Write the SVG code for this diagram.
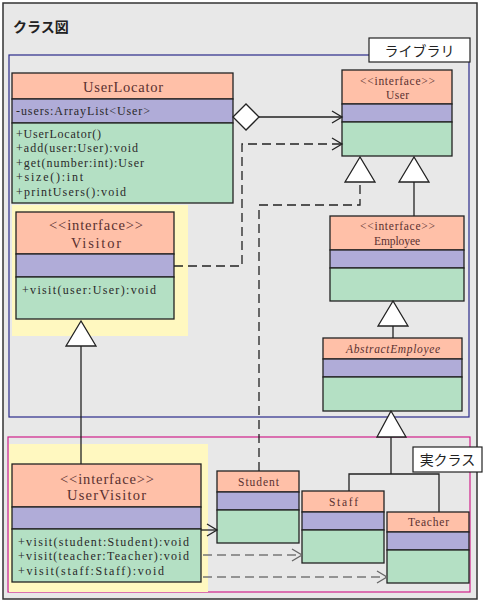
<svg xmlns="http://www.w3.org/2000/svg" width="494" height="605" viewBox="0 0 494 605">
<style>
.hd{fill:#ffc0a8;stroke:#222;stroke-width:1.3}
.at{fill:#b0acd8;stroke:#222;stroke-width:1.3}
.op{fill:#b4e0c4;stroke:#222;stroke-width:1.3}
.t{font-family:"Liberation Serif",serif;fill:#5a3030}
.m{font-family:"Liberation Serif",serif;fill:#2a2a2a;font-size:12px}
.jp{font-family:"Noto Sans CJK JP",sans-serif;font-size:14px;fill:#222}
.tri{fill:#fff;stroke:#222;stroke-width:1.3}
.ln{fill:none;stroke:#222;stroke-width:1.3}
.dl{fill:none;stroke:#222;stroke-width:1.3;stroke-dasharray:9 5}
.dg{fill:none;stroke:#777;stroke-width:1.6;stroke-dasharray:9 5}
</style>
<defs>
<marker id="ar" markerUnits="userSpaceOnUse" markerWidth="14" markerHeight="14" refX="11" refY="7" orient="auto">
<path d="M1,1 L11,7 L1,13" fill="none" stroke="#222" stroke-width="1.3"/>
</marker>
<marker id="arg" markerUnits="userSpaceOnUse" markerWidth="14" markerHeight="14" refX="11" refY="7" orient="auto">
<path d="M1,1 L11,7 L1,13" fill="none" stroke="#666" stroke-width="1.3"/>
</marker>
</defs>
<rect x="0" y="0" width="494" height="605" fill="#fff"/>
<rect x="3" y="3" width="474" height="596" fill="#e8e8e8" stroke="#333" stroke-width="1.5"/>
<text x="13" y="32" class="jp" font-weight="bold">クラス図</text>

<g id="library-frame">
<rect x="9" y="55" width="460" height="362" fill="none" stroke="#2a2a8a" stroke-width="1.2"/>
<rect x="369" y="38" width="101" height="24" fill="#fff" stroke="#222" stroke-width="1.2"/>
<text x="419.5" y="56" class="jp" text-anchor="middle">ライブラリ</text>
</g>
<g id="real-frame">
<rect x="8" y="437" width="462" height="155" fill="none" stroke="#d0208a" stroke-width="1.2"/>
</g>

<rect x="12" y="205" width="176" height="131" fill="#fff8c0"/>
<rect x="9" y="444" width="199" height="148" fill="#fff8c0"/>

<g id="UserLocator">
<rect class="hd" x="12" y="73" width="221" height="26"/>
<rect class="at" x="12" y="99" width="221" height="24"/>
<rect class="op" x="12" y="123" width="221" height="80"/>
<text class="t" x="83" y="92" font-size="14.5" textLength="80">UserLocator</text>
<text class="m" x="16" y="114.5" textLength="134">-users:ArrayList&lt;User&gt;</text>
<text class="m" x="16" y="137.5" textLength="85">+UserLocator()</text>
<text class="m" x="16" y="152" textLength="122">+add(user:User):void</text>
<text class="m" x="16" y="166.5" textLength="128">+get(number:int):User</text>
<text class="m" x="16" y="181" textLength="67">+size():int</text>
<text class="m" x="16" y="195.5" textLength="110">+printUsers():void</text>
</g>

<g id="Visitor">
<rect class="hd" x="16" y="212" width="158" height="42"/>
<rect class="at" x="16" y="254" width="158" height="23"/>
<rect class="op" x="16" y="277" width="158" height="42"/>
<text class="t" x="49" y="229.5" font-size="14.5" textLength="94">&lt;&lt;interface&gt;&gt;</text>
<text class="t" x="71" y="247.5" font-size="14.5" textLength="50">Visitor</text>
<text class="m" x="22" y="293.5" textLength="134">+visit(user:User):void</text>
</g>

<g id="User">
<rect class="hd" x="342" y="70" width="110" height="34"/>
<rect class="at" x="342" y="104" width="110" height="18"/>
<rect class="op" x="342" y="122" width="110" height="34"/>
<text class="t" x="360" y="85" font-size="11.5" textLength="75">&lt;&lt;interface&gt;&gt;</text>
<text class="t" x="386" y="99" font-size="11.5" textLength="23">User</text>
</g>

<g id="Employee">
<rect class="hd" x="330" y="216" width="134" height="34"/>
<rect class="at" x="330" y="250" width="134" height="18"/>
<rect class="op" x="330" y="268" width="134" height="33"/>
<text class="t" x="360" y="229.5" font-size="11.5" textLength="75">&lt;&lt;interface&gt;&gt;</text>
<text class="t" x="374" y="244.5" font-size="11.5" textLength="46">Employee</text>
</g>

<g id="AbstractEmployee">
<rect class="hd" x="323" y="338" width="139" height="21"/>
<rect class="at" x="323" y="359" width="139" height="18"/>
<rect class="op" x="323" y="377" width="139" height="34"/>
<text class="t" x="346" y="353" font-size="11.5" font-style="italic" textLength="94">AbstractEmployee</text>
</g>

<g id="UserVisitor">
<rect class="hd" x="12" y="464" width="189" height="43"/>
<rect class="at" x="12" y="507" width="189" height="22"/>
<rect class="op" x="12" y="529" width="189" height="53"/>
<text class="t" x="60" y="483.5" font-size="14.5" textLength="94">&lt;&lt;interface&gt;&gt;</text>
<text class="t" x="67" y="500" font-size="14.5" textLength="79">UserVisitor</text>
<text class="m" x="18" y="545.5" textLength="171">+visit(student:Student):void</text>
<text class="m" x="18" y="560" textLength="171">+visit(teacher:Teacher):void</text>
<text class="m" x="18" y="574.5" textLength="146">+visit(staff:Staff):void</text>
</g>

<g id="Student">
<rect class="hd" x="217" y="471" width="82" height="21"/>
<rect class="at" x="217" y="492" width="82" height="18"/>
<rect class="op" x="217" y="510" width="82" height="33"/>
<text class="t" x="238" y="485.5" font-size="11.5" textLength="41">Student</text>
</g>

<g id="Staff">
<rect class="hd" x="302" y="491" width="82" height="21"/>
<rect class="at" x="302" y="512" width="82" height="18"/>
<rect class="op" x="302" y="530" width="82" height="33"/>
<text class="t" x="329" y="505.5" font-size="11.5" textLength="29">Staff</text>
</g>

<g id="Teacher">
<rect class="hd" x="387" y="512" width="82" height="20"/>
<rect class="at" x="387" y="532" width="82" height="18"/>
<rect class="op" x="387" y="550" width="82" height="33"/>
<text class="t" x="408" y="525.5" font-size="11.5" textLength="41">Teacher</text>
</g>

<g id="real-label">
<rect x="413" y="447" width="69" height="25" fill="#fff" stroke="#222" stroke-width="1.2"/>
<text x="447.5" y="465" class="jp" text-anchor="middle">実クラス</text>
</g>

<g id="connectors">
<polygon points="233,117 246,104 259,117 246,130" fill="#fff" stroke="#222" stroke-width="1.3"/>
<line class="ln" x1="259" y1="117" x2="342" y2="117" marker-end="url(#ar)"/>
<polyline class="dl" points="174,266 242,266 242,144 342,144" marker-end="url(#ar)"/>
<polyline class="dl" points="259,471 259,205 360,205 360,182"/>
<polygon class="tri" points="360,157 345,182 375,182"/>
<line class="ln" x1="414" y1="182" x2="414" y2="216"/>
<polygon class="tri" points="414,157 399,182 429,182"/>
<line class="ln" x1="393" y1="326" x2="393" y2="338"/>
<polygon class="tri" points="393,301 378,326 408,326"/>
<polyline class="ln" points="391,437 391,474"/>
<polyline class="ln" points="349,491 349,474 439,474 439,512"/>
<polygon class="tri" points="391,411 377,437 406,437"/>
<line class="ln" x1="81" y1="346" x2="81" y2="464"/>
<polygon class="tri" points="81,321 66,346 96,346"/>
<line class="ln" x1="201" y1="530" x2="217" y2="530" marker-end="url(#ar)"/>
<line class="dg" x1="203" y1="555" x2="302" y2="555" marker-end="url(#arg)"/>
<line class="dg" x1="203" y1="577" x2="387" y2="577" marker-end="url(#arg)"/>
</g>
</svg>
